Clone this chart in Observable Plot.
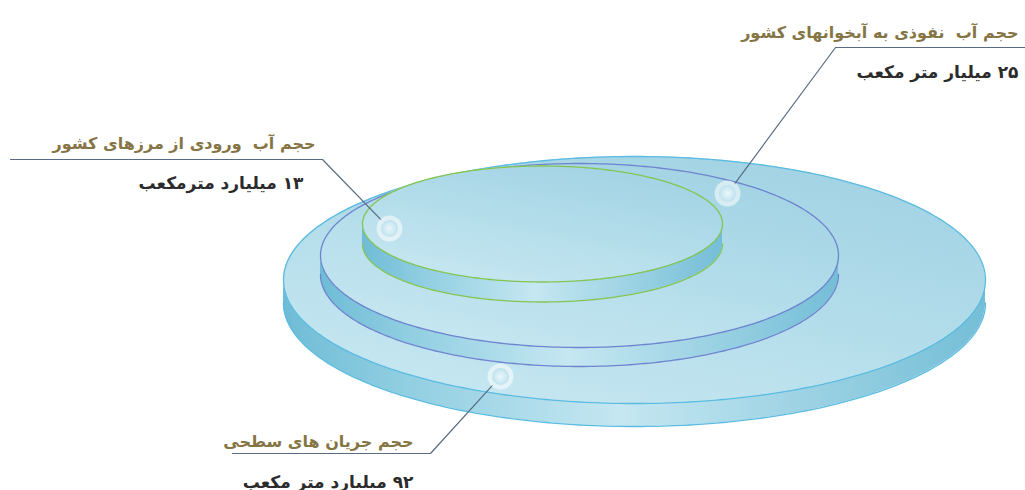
<!DOCTYPE html>
<html>
<head>
<meta charset="utf-8">
<script src="https://cdn.jsdelivr.net/npm/d3@7"></script>
<script src="https://cdn.jsdelivr.net/npm/@observablehq/plot@0.6"></script>
<style>
  html, body { margin: 0; padding: 0; background: #ffffff; }
  #chart svg { display: block; }
</style>
</head>
<body>
<div id="chart"></div>
<script>
// ---------- data ----------
const categories = ["surface", "aquifer", "border"];
const titles = ["حجم جریان های سطحی", "حجم آب  نفوذی به آبخوانهای کشور", "حجم آب  ورودی از مرزهای کشور"];
const values = [92, 25, 13];
const valueLabels = ["۹۲ میلیارد متر مکعب", "۲۵ میلیار متر مکعب", "۱۳ میلیارد مترمکعب"];

// ---------- layout (pixel geometry of the diagram, not data) ----------
const W = 1025, H = 490;
const discCx = [634, 579, 542];
const discCy = [279.5, 255, 223.5];
const discRx = [351, 259, 180];
const discRy = [123.5, 92, 58];
const discT  = [23, 19, 20];
const discEdge = ["#5bbbe0", "#6f84cf", "#84c552"];
const ringX = [500, 727, 389];
const ringY = [376, 193, 228];
// connector elbows and label anchors
const elbowX = [430, 835, 322];
const elbowY = [453, 47, 159];
const lineEndX = [232, 1025, 10];
const titleX = [413, 1018, 315];
const titleY = [446, 37, 148];
const valueX = [413, 1018, 303];
const valueY = [487, 77, 188];

// ---------- build geometry tables from layout ----------
const N = 160;
const faces = [], sides = [], rims = [], bottoms = [];
categories.forEach((c, i) => {
  const cx = discCx[i], cy = discCy[i], rx = discRx[i], ry = discRy[i], t = discT[i];
  for (let k = 0; k <= N; k++) {
    const th = Math.PI * k / N;
    const x = cx - rx * Math.cos(th);
    const h = ry * Math.sin(th);
    faces.push({cat: c, x, y1: cy - h, y2: cy + h});
    sides.push({cat: c, x, y1: cy + h, y2: cy + h + t});
    bottoms.push({cat: c, x, y: cy + h + t});
  }
  for (let k = 0; k <= 2 * N; k++) {
    const th = Math.PI * k / N;
    rims.push({cat: c, x: cx + rx * Math.cos(th), y: cy + ry * Math.sin(th)});
  }
});
const connectors = [];
categories.forEach((c, i) => {
  const dx = elbowX[i] - ringX[i], dy = elbowY[i] - ringY[i];
  const d = Math.hypot(dx, dy);
  connectors.push({cat: c, x: ringX[i] + dx * 12 / d, y: ringY[i] + dy * 12 / d});
  connectors.push({cat: c, x: elbowX[i], y: elbowY[i]});
  connectors.push({cat: c, x: lineEndX[i], y: elbowY[i]});
});
// wrap in a right-to-left embedding so digits sit at the right as in Persian layout
const rtl = s => "\u202B" + s + "\u202C";
const labels = categories.map((c, i) => ({cat: c, title: rtl(titles[i]), value: values[i], vlabel: rtl(valueLabels[i]),
  tx: titleX[i], ty: titleY[i], vx: valueX[i], vy: valueY[i], rx: ringX[i], ry: ringY[i]}));

// ---------- marks ----------
const marks = [];
categories.forEach((c, i) => {
  const f = d => d.cat === c;
  marks.push(Plot.area(sides.filter(f), {x1: "x", y1: "y1", y2: "y2", fill: `url(#side${i})`, curve: "linear"}));
  marks.push(Plot.line(bottoms.filter(f), {x: "x", y: "y", stroke: discEdge[i], strokeWidth: 1.3, curve: "linear"}));
  marks.push(Plot.area(faces.filter(f), {x1: "x", y1: "y1", y2: "y2", fill: `url(#face${i})`, curve: "linear"}));
  marks.push(Plot.line(rims.filter(f), {x: "x", y: "y", stroke: discEdge[i], strokeWidth: 1.3, curve: "linear"}));
});
marks.push(Plot.line(connectors, {x: "x", y: "y", z: "cat", stroke: "#5a6a84", strokeWidth: 1.2, curve: "linear"}));
marks.push(Plot.dot(labels, {x: "rx", y: "ry", r: 13, fill: "#ffffff", fillOpacity: 0.55, stroke: "none"}));
marks.push(Plot.dot(labels, {x: "rx", y: "ry", r: 8.5, fill: "url(#ring)", stroke: "none"}));
marks.push(Plot.text(labels, {x: "tx", y: "ty", text: "title", textAnchor: "end", lineAnchor: "bottom",
  fill: "#857545", fontSize: 16, fontWeight: "bold", fontFamily: "DejaVu Sans"}));
marks.push(Plot.text(labels, {x: "vx", y: "vy", text: "vlabel", textAnchor: "end", lineAnchor: "bottom",
  fill: "#2b2b2b", fontSize: 17, fontWeight: "bold", fontFamily: "DejaVu Sans"}));

const chart = Plot.plot({
  width: W, height: H,
  margin: 0,
  x: {type: "linear", domain: [0, W], range: [0, W], axis: null},
  y: {type: "linear", domain: [0, H], range: [0, H], axis: null},
  style: {background: "#ffffff", fontFamily: "DejaVu Sans", overflow: "visible"},
  marks
});

// gradients
const ns = "http://www.w3.org/2000/svg";
const defs = document.createElementNS(ns, "defs");
function lin(id, x1, y1, x2, y2, stops) {
  const g = document.createElementNS(ns, "linearGradient");
  g.setAttribute("id", id);
  g.setAttribute("x1", x1); g.setAttribute("y1", y1); g.setAttribute("x2", x2); g.setAttribute("y2", y2);
  stops.forEach(([o, col]) => {
    const s = document.createElementNS(ns, "stop");
    s.setAttribute("offset", o); s.setAttribute("stop-color", col);
    g.appendChild(s);
  });
  defs.appendChild(g);
}
const sideStops = [[0, "#6fbcd6"], [0.18, "#92cfe2"], [0.48, "#c5e7f1"], [0.8, "#94cee1"], [1, "#74bed7"]];
const faceStops = [[0, "#c6e7f1"], [0.5, "#b2dcea"], [1, "#a0d2e3"]];
categories.forEach((c, i) => {
  lin(`side${i}`, 0, 0, 1, 0, sideStops);
  lin(`face${i}`, 0.25, 1, 0.85, 0, faceStops);
});
const rg = document.createElementNS(ns, "radialGradient");
rg.setAttribute("id", "ring");
[[0, "#e9f6fa"], [0.55, "#d3ecf4"], [1, "#bfe1ed"]].forEach(([o, col]) => {
  const s = document.createElementNS(ns, "stop");
  s.setAttribute("offset", o); s.setAttribute("stop-color", col);
  rg.appendChild(s);
});
defs.appendChild(rg);
chart.insertBefore(defs, chart.firstChild);

document.getElementById("chart").appendChild(chart);
</script>
</body>
</html>
